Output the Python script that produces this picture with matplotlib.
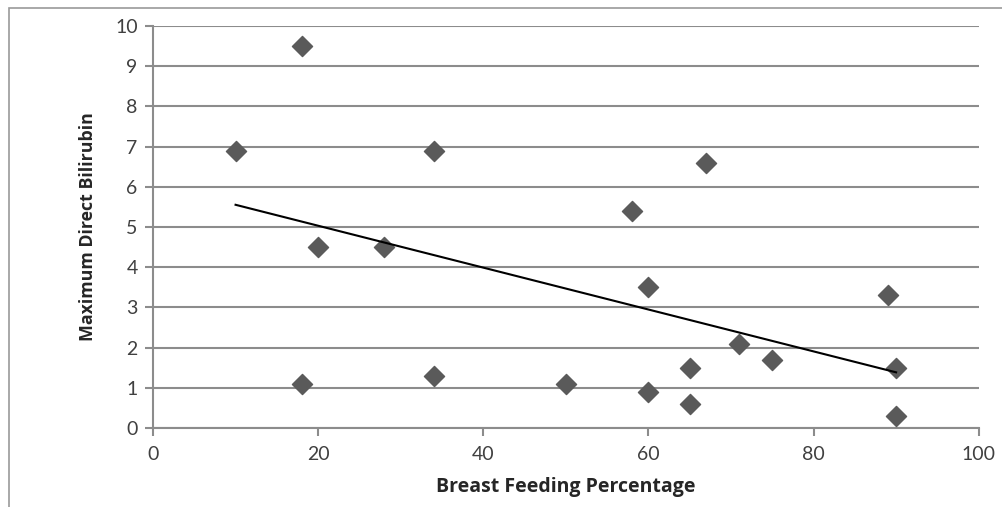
import numpy as np
import matplotlib.pyplot as plt
from matplotlib.patches import Rectangle

# Breast feeding percentage vs maximum direct bilirubin
breast_feeding = [10, 18, 18, 20, 28, 34, 34, 50, 58, 60, 60, 65, 65, 67, 71, 75, 89, 90, 90]
bilirubin = [6.9, 9.5, 1.1, 4.5, 4.5, 6.9, 1.3, 1.1, 5.4, 3.5, 0.9, 1.5, 0.6, 6.6, 2.1, 1.7, 3.3, 1.5, 0.3]

x_ticks = [0, 20, 40, 60, 80, 100]
y_ticks = list(range(0, 11))

text_color = '#404040'
grid_color = '#8c8c8c'

plt.rcParams['font.family'] = ['Lato', 'DejaVu Sans']

fig = plt.figure(figsize=(10.02, 5.07), dpi=100)
ax = fig.add_axes([0.1527, 0.1558, 0.824, 0.7929])

# outer chart frame (only the left and top edges are visible)
fig.patches.append(Rectangle((0.009, -0.1), 1.2, 0.1 + 0.985, transform=fig.transFigure,
                             fill=False, edgecolor='#9a9a9a', linewidth=1.2))

ax.set_xlim(0, 100)
ax.set_ylim(0, 10)
ax.set_xticks(x_ticks)
ax.set_yticks(y_ticks)

ax.grid(axis='y', color=grid_color, linewidth=1.5)
ax.set_axisbelow(True)

for side in ['top', 'right']:
    ax.spines[side].set_visible(False)
for side in ['left', 'bottom']:
    ax.spines[side].set_color(grid_color)
    ax.spines[side].set_linewidth(1.5)

ax.tick_params(axis='both', colors=grid_color, labelcolor=text_color, labelsize=14,
               length=6, width=1.5)
ax.tick_params(axis='y', pad=5)
ax.tick_params(axis='x', pad=7)

ax.scatter(breast_feeding, bilirubin, marker='D', s=105, color='#5a5a5a',
           edgecolors='#5a5a5a', zorder=3)

# linear trendline across the range of the data
slope, intercept = np.polyfit(breast_feeding, bilirubin, 1)
xs = np.array([min(breast_feeding), max(breast_feeding)])
ax.plot(xs, slope * xs + intercept, color='black', linewidth=1.5, zorder=4)

label_font = dict(fontweight='bold', color='#262626', family=['Open Sans', 'DejaVu Sans'])
ax.set_xlabel('Breast Feeding Percentage', fontsize=14, **label_font)
ax.set_ylabel('Maximum Direct Bilirubin', fontsize=12.8, **label_font)
ax.xaxis.set_label_coords(0.5, -0.147)
ax.xaxis.label.set_va('center')
ax.yaxis.set_label_coords(-0.0787, 0.5)
ax.yaxis.label.set_va('center')

fig.savefig('out.png', dpi=100)
